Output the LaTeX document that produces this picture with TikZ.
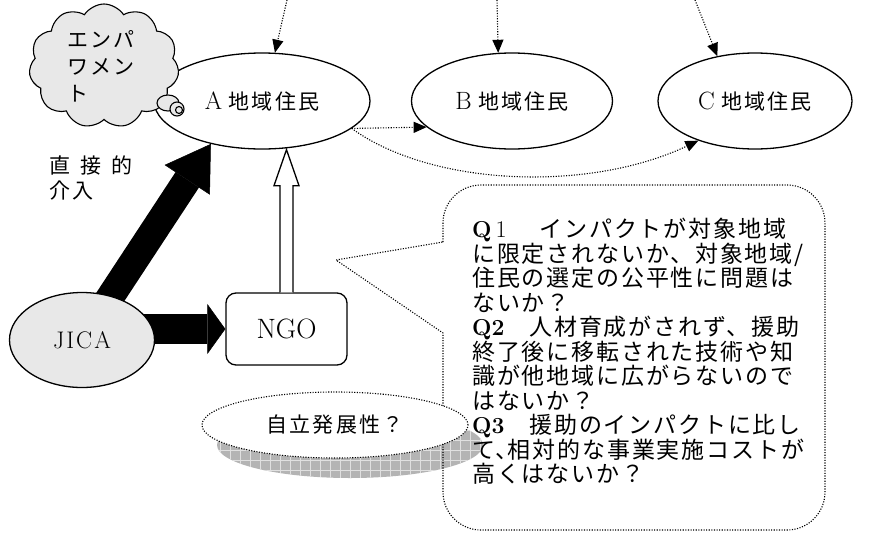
\documentclass[tikz,border=0pt]{standalone}
\usepackage{fontspec}
\newfontfamily\jp{Noto Sans CJK JP}[LetterSpace=10]
\newfontfamily\jpq{Noto Sans CJK JP}[LetterSpace=8]
\usepackage{xcolor}
\definecolor{cloud-gray}{HTML}{E8E8E8}
\definecolor{shadow-gray}{HTML}{B4B4B4}
\definecolor{grid-gray}{HTML}{E0E0E0}
\usepackage{tikz}
\usetikzlibrary{shapes.geometric,shapes.symbols,arrows.meta,calc,backgrounds}

\newcommand{\latin}[1]{{\rmfamily\fontsize{25}{25}\selectfont #1}}
\newcommand{\qmark}[1]{{\rmfamily\bfseries\fontsize{23}{23}\selectfont #1}}

\tikzset{
  region/.style={ellipse, draw, line width=1.3pt, fill=white, minimum height=96pt, inner sep=0pt, font={\fontsize{21}{25}\selectfont\jp}},
  dot-line/.style={line width=1.1pt, dash pattern=on 1.1pt off 1.5pt},
  dot-arrow/.style={dot-line, -{Triangle[length=13pt, width=11pt]}},
}

\begin{document}
\begin{tikzpicture}[x=1pt, y=-1pt]
    \useasboundingbox (0,0) rectangle (892,536);

    % Callout
    \draw[dot-line] (443,242) -- (443,223) arc[start angle=180, end angle=270, radius=38] -- (787,185) arc[start angle=270, end angle=360, radius=38] -- (825,492) arc[start angle=0, end angle=90, radius=38] -- (481,530) arc[start angle=90, end angle=180, radius=38] -- (443,333) -- (336,260) -- cycle;
    \node[anchor=north west, inner sep=0pt, align=left, font={\fontsize{23}{24.5}\selectfont\lineskiplimit=-50pt\jpq}] (questions) at (472,218) {\qmark{Q}{\rmfamily\fontsize{24}{24}\selectfont\,1}　\hspace{10pt}インパクトが対象地域\\
        に限定されないか、対象地域/\\
        住民の選定の公平性に問題は\\
        ないか？\\
        \qmark{Q2}　人材育成がされず、援助\\
        終了後に移転された技術や知\\
        識が他地域に広がらないので\\
        はないか？\\
        \qmark{Q3}　援助のインパクトに比し\\
        て、\hspace{-11pt}相対的な事業実施コストが\\
        高くはないか？};

    % Regions
    \node[region, minimum width=216pt] (a) at (262,101) {\latin{A} 地域住民};
    \node[region, minimum width=201pt] (b) at (512,101) {\latin{B} 地域住民};
    \node[region, minimum width=194pt] (c) at (755,101) {\latin{C} 地域住民};

    % Empowerment cloud
    \node[cloud, cloud puffs=11, cloud puff arc=115, cloud ignores aspect, draw, line width=1.1pt, fill=cloud-gray, minimum width=150pt, minimum height=124pt] (empower) at (104,66) {};
    \node[anchor=west, inner sep=0pt, align=left, font={\fontsize{21}{27}\selectfont\lineskiplimit=-50pt\jp}] (empower-text) at (67,66) {エンパ\\ワメン\\ト};
    \draw[line width=1.1pt, fill=cloud-gray] (168,103) ellipse [x radius=11, y radius=8];
    \draw[line width=1.1pt, fill=cloud-gray] (177,109) circle [radius=7];
    \draw[line width=1.1pt] (179,110) circle [radius=3.5];

    % JICA and NGO
    \node[ellipse, draw, line width=1.3pt, fill=cloud-gray, minimum width=145pt, minimum height=95pt, inner sep=0pt, font={\fontsize{24}{26}\selectfont}] (jica) at (82,340) {J\kern2pt I\kern2pt C\kern2pt A};
    \node[draw, line width=1.3pt, fill=white, rounded corners=10pt, minimum width=121pt, minimum height=72pt, font={\fontsize{28}{30}\selectfont}] (ngo) at (286.5,329) {NGO};

    % Direct intervention
    \node[anchor=west, inner sep=0pt, align=left, font={\fontsize{21}{25}\selectfont\lineskiplimit=-50pt\jp}] (direct) at (49,178) {直\hspace{10pt}接\hspace{10pt}的\\介入};

    % Self-reliance
    \node[ellipse, draw, dot-line, fill=white, minimum width=266pt, minimum height=66pt, inner sep=0pt, font={\fontsize{21}{25}\selectfont\jp}] (selfdev) at (335,425) {自立発展性？};

    % Shadow and thick arrows
    \begin{pgfonlayer}{background}
        \begin{scope}
            \clip ($(selfdev.center)+(15,20)$) ellipse [x radius=133, y radius=33];
            \fill[shadow-gray] ($(selfdev.center)+(-125,60)$) rectangle ($(selfdev.center)+(155,-20)$);
            \draw[grid-gray, line width=0.8pt, step=10pt] ($(selfdev.center)+(-125,60)$) grid ($(selfdev.center)+(155,-20)$);
        \end{scope}
        \draw[line width=28pt, -{Triangle[length=43pt, width=54pt, line width=0.5pt]}] (jica.center) -- (a.220);
        \draw[line width=30pt, -{Triangle[length=18pt, width=50pt, line width=0.5pt]}] (jica.center |- ngo.west) -- (ngo.west);
    \end{pgfonlayer}

    % Dotted arrows
    \coordinate (src-a) at (287,0);
    \coordinate (src-b) at (497,0);
    \coordinate (src-c) at (695,0);
    \draw[dot-arrow] (src-a) -- (a.75);
    \draw[dot-arrow] (src-b) -- (b.106);
    \draw[dot-arrow] (src-c) -- (c.130);
    \draw[dot-arrow] (a.-17) -- (b.-163);
    \draw[dot-arrow] (a.-17) .. controls +(80,58) and +(-110,52) .. (c.-145);

    % Hollow arrow
    \coordinate (up-tip) at (ngo.north |- a.south);
    \draw[line width=1.3pt, fill=white] ($(ngo.north)+(-6.5,0)$) -- ($(up-tip)+(-6.5,36)$) -- ($(up-tip)+(-12.5,36)$) -- (up-tip) -- ($(up-tip)+(12.5,36)$) -- ($(up-tip)+(6.5,36)$) -- ($(ngo.north)+(6.5,0)$);

\end{tikzpicture}
\end{document}
